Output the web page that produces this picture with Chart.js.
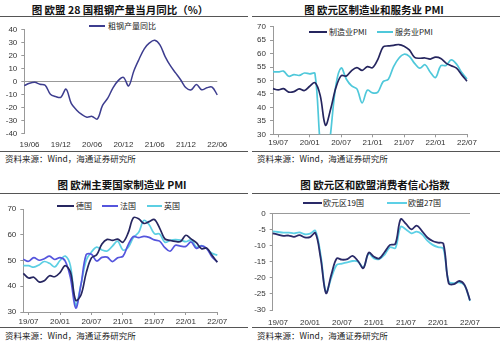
<!DOCTYPE html>
<html><head><meta charset="utf-8">
<script src="https://cdn.jsdelivr.net/npm/chart.js@4"></script>
<style>
html,body{margin:0;padding:0;background:#fff;width:500px;height:341px;overflow:hidden;position:relative;font-family:"Noto Sans CJK SC","Liberation Sans",sans-serif;}
.title{position:absolute;font-weight:bold;font-size:10.5px;line-height:12px;color:#111;text-align:center;white-space:nowrap;}
.rule{position:absolute;height:1px;background:#555;}
.src{position:absolute;font-size:8.5px;line-height:10px;color:#222;white-space:nowrap;}
.lg{position:absolute;font-size:8px;line-height:10px;color:#222;white-space:nowrap;}
.lgl{position:absolute;height:2px;}
canvas{position:absolute;}
</style></head><body>

<div class="title" style="left:0;width:240px;top:4px;">图 欧盟 28 国粗钢产量当月同比（%）</div>
<div class="rule" style="left:0;width:248px;top:16px;"></div>
<div class="lgl" style="left:89px;width:16px;top:25px;background:#3D3D8F;"></div>
<div class="lg" style="left:108px;top:21px;">粗钢产量同比</div>
<div class="rule" style="left:0;width:248px;top:151px;"></div>
<div class="src" style="left:5px;top:153px;">资料来源：Wind，海通证券研究所</div>

<div class="title" style="left:250px;width:248px;top:4px;">图 欧元区制造业和服务业 PMI</div>
<div class="rule" style="left:252px;width:248px;top:16px;"></div>
<div class="lgl" style="left:309px;width:18px;top:31px;background:#25255E;"></div>
<div class="lg" style="left:329px;top:27px;">制造业PMI</div>
<div class="lgl" style="left:377px;width:16px;top:31px;background:#4FC8DA;"></div>
<div class="lg" style="left:395px;top:27px;">服务业PMI</div>
<div class="rule" style="left:252px;width:248px;top:151px;"></div>
<div class="src" style="left:257px;top:153px;">资料来源：Wind，海通证券研究所</div>

<div class="title" style="left:0;width:244px;top:179px;">图 欧洲主要国家制造业 PMI</div>
<div class="rule" style="left:0;width:248px;top:193px;"></div>
<div class="lgl" style="left:57px;width:17px;top:205px;background:#262660;"></div>
<div class="lg" style="left:76px;top:201px;">德国</div>
<div class="lgl" style="left:102px;width:16px;top:205px;background:#5555DD;"></div>
<div class="lg" style="left:120px;top:201px;">法国</div>
<div class="lgl" style="left:147px;width:15px;top:205px;background:#5CCFE3;"></div>
<div class="lg" style="left:164px;top:201px;">英国</div>
<div class="rule" style="left:0;width:248px;top:327px;"></div>
<div class="src" style="left:5px;top:330px;">资料来源：Wind，海通证券研究所</div>

<div class="title" style="left:250px;width:250px;top:179px;">图 欧元区和欧盟消费者信心指数</div>
<div class="rule" style="left:252px;width:248px;top:193px;"></div>
<div class="lgl" style="left:303px;width:19px;top:202px;background:#2A2A68;"></div>
<div class="lg" style="left:323px;top:198px;">欧元区19国</div>
<div class="lgl" style="left:387px;width:20px;top:202px;background:#5DD0E6;"></div>
<div class="lg" style="left:408px;top:198px;">欧盟27国</div>
<div class="rule" style="left:252px;width:248px;top:327px;"></div>
<div class="src" style="left:257px;top:330px;">资料来源：Wind，海通证券研究所</div>

<canvas id="c1" width="250" height="134" style="left:0;top:18px;"></canvas>
<canvas id="c2" width="250" height="134" style="left:250px;top:18px;"></canvas>
<canvas id="c3" width="250" height="133" style="left:0;top:194px;"></canvas>
<canvas id="c4" width="250" height="133" style="left:250px;top:194px;"></canvas>

<script>
// ---------- data ----------
const steelMonths = ['19/05','19/06','19/07','19/08','19/09','19/10','19/11','19/12',
 '20/01','20/02','20/03','20/04','20/05','20/06','20/07','20/08','20/09','20/10','20/11','20/12',
 '21/01','21/02','21/03','21/04','21/05','21/06','21/07','21/08','21/09','21/10','21/11','21/12',
 '22/01','22/02','22/03','22/04','22/05','22/06'];
const pmiMonths = ['19/06','19/07','19/08','19/09','19/10','19/11','19/12',
 '20/01','20/02','20/03','20/04','20/05','20/06','20/07','20/08','20/09','20/10','20/11','20/12',
 '21/01','21/02','21/03','21/04','21/05','21/06','21/07','21/08','21/09','21/10','21/11','21/12',
 '22/01','22/02','22/03','22/04','22/05','22/06','22/07'];

const steelYoY = [-3.3,-1.5,-0.8,-2.3,-3,-10,-11.7,-12.3,-6,-17,-22,-25.5,-27.6,-27,-29,-18.5,-13,-5,0.5,3,-3.5,8,17,25,29.5,31.5,28,19,12,6.5,1,-5,-6.5,-2.5,-6.5,-5,-4.5,-10.5];

const ezMfgPMI = [47.0,46.5,47.0,45.7,45.9,46.9,46.3,47.9,49.2,44.5,33.4,39.4,47.4,51.8,51.7,53.7,54.8,53.8,55.2,54.8,57.9,62.5,62.9,63.1,63.4,62.8,61.4,58.6,58.3,58.4,58.0,58.7,58.2,56.5,55.5,54.6,52.1,49.8];
const ezSrvPMI = [53.3,53.2,53.5,51.6,52.2,51.9,52.8,52.5,52.6,26.4,12.0,30.5,48.3,54.7,50.5,48.0,46.9,41.7,46.4,45.4,45.7,49.6,50.5,55.2,58.3,59.8,59.0,56.4,54.6,55.9,53.1,51.1,55.5,55.6,57.7,56.1,53.0,50.6];

const dePMI = [45.0,43.2,43.5,41.7,42.1,44.1,43.7,45.3,48.0,45.4,34.5,36.6,45.2,51.0,52.2,56.4,58.2,57.8,58.3,57.1,60.7,66.6,66.2,64.4,65.1,65.9,62.6,58.4,57.8,57.4,57.4,59.8,58.4,56.9,54.6,54.8,52.0,49.3];
const frPMI = [50.5,49.7,51.1,50.1,50.7,51.7,50.4,51.1,49.8,43.2,31.5,40.6,52.3,52.4,49.8,51.2,51.3,49.6,51.1,51.6,56.1,59.3,58.9,59.4,59.0,58.0,57.5,55.0,53.6,55.9,55.6,55.5,57.2,54.7,55.7,54.6,51.4,49.5];
const ukPMI = [48.0,48.0,47.4,48.3,49.6,48.9,47.5,50.0,51.7,47.8,32.6,40.7,50.1,53.3,55.2,54.1,53.7,55.6,57.5,54.1,55.1,58.9,60.9,65.6,63.9,60.4,60.3,57.1,57.8,58.1,57.9,57.3,58.0,55.2,55.8,54.6,52.8,52.1];

const ea19Conf = [-6.2,-6.6,-7.0,-6.9,-7.3,-6.8,-7.5,-7.4,-6.1,-14,-24.8,-19,-14,-14.4,-14.2,-13.2,-14.8,-17,-12.2,-13.5,-14,-12,-9.8,-9.5,-1.8,-3.3,-5,-3.8,-5.5,-7.5,-8.6,-9.1,-9.4,-21.7,-22,-21,-22.3,-27];
const eu27Conf = [-5.6,-5.8,-6.0,-6.0,-6.2,-5.9,-6.5,-6.3,-5.4,-13,-24.5,-20,-16,-15.6,-15.2,-14.8,-15,-16.8,-12.5,-14,-14.2,-12.8,-10.5,-10.8,-4.2,-5.0,-6.2,-5.7,-6.5,-8.5,-9.8,-10.5,-10.9,-21.2,-21.7,-21.4,-22.4,-27.2];

// ---------- helpers ----------
const TICK_FONT = {family:'Liberation Sans', size:8};
const TICK_COLOR = '#333';
const AXIS_COLOR = '#999';
const CLEAR = 'rgba(0,0,0,0)';

function line(label, data, color, w){
  return {label, data, borderColor:color, backgroundColor:color, borderWidth:w||1.6,
          pointRadius:0, tension:0.35, fill:false};
}

function makeChart(id, labels, datasets, p){
  return new Chart(document.getElementById(id), {
    type:'line',
    data:{labels, datasets},
    options:{
      responsive:false, animation:false, events:[],
      layout:{padding:{left:0,right:p.padR,top:p.padT,bottom:0}},
      plugins:{legend:{display:false},tooltip:{enabled:false},title:{display:false}},
      scales:{
        x:{
          type:'category', offset:false,
          border:{display:p.xBorder,color:AXIS_COLOR},
          grid:{display:p.xBorder, drawOnChartArea:false, drawTicks:true, tickLength:3,
                color:c=> (c.index%6===1)?AXIS_COLOR:CLEAR,
                tickColor:c=> (c.index%6===1)?AXIS_COLOR:CLEAR},
          ticks:{autoSkip:false,maxRotation:0,minRotation:0,padding:p.xPad,color:TICK_COLOR,font:TICK_FONT,
                 callback:function(v,i){return (i%6===1)?this.getLabelForValue(v):'';}},
          afterFit:s=>{s.height=p.xH;}
        },
        y:{
          min:p.yMin, max:p.yMax,
          ticks:{stepSize:p.yStep, padding:4, color:TICK_COLOR, font:TICK_FONT},
          border:{display:true,color:AXIS_COLOR},
          grid:{drawOnChartArea:!!p.zero, drawTicks:true, tickLength:3,
                color:c=> (p.zero && c.tick && c.tick.value===0)?AXIS_COLOR:CLEAR,
                tickColor:AXIS_COLOR},
          afterFit:s=>{s.width=p.yW;}
        }
      }
    }
  });
}

makeChart('c1', steelMonths, [line('粗钢产量同比', steelYoY, '#3D3D8F', 1.5)],
  {yMin:-40,yMax:40,yStep:10,yW:24.3,padR:32.7,padT:11.3,xH:18.7,xBorder:false,xPad:4,zero:true});

makeChart('c2', pmiMonths, [line('制造业PMI', ezMfgPMI, '#25255E', 1.7), line('服务业PMI', ezSrvPMI, '#4FC8DA', 1.7)],
  {yMin:30,yMax:70,yStep:5,yW:23,padR:33,padT:8.7,xH:17.7,xBorder:true,xPad:1,zero:false});

makeChart('c3', pmiMonths, [line('德国', dePMI, '#262660', 1.7), line('法国', frPMI, '#5555DD', 1.7), line('英国', ukPMI, '#5CCFE3', 1.7)],
  {yMin:30,yMax:70,yStep:10,yW:23.3,padR:32.7,padT:15,xH:15,xBorder:true,xPad:1.5,zero:false});

makeChart('c4', pmiMonths, [line('欧元区19国', ea19Conf, '#2A2A68', 1.8), line('欧盟27国', eu27Conf, '#5DD0E6', 1.8)],
  {yMin:-30,yMax:0,yStep:5,yW:22.7,padR:30,padT:19.3,xH:17,xBorder:false,xPad:4.5,zero:true});
</script>
</body></html>
